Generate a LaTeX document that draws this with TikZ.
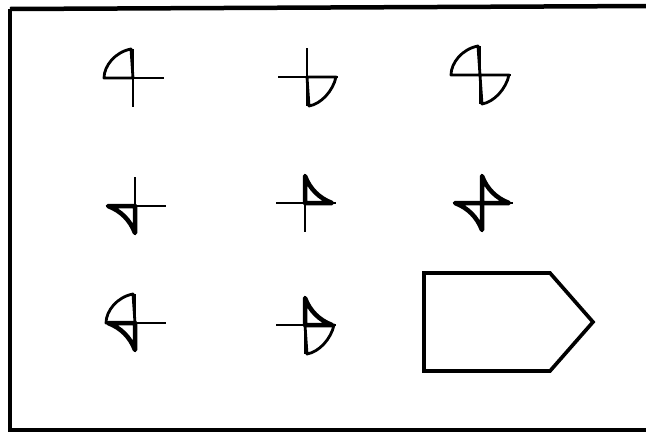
\documentclass[tikz,border=0pt]{standalone}
\usepackage{tikz}
\usetikzlibrary{calc}

\begin{document}
\begin{tikzpicture}[
    x=0.025cm, y=-0.025cm,
    % --- STYLES ---
    frame/.style={draw=black, line width=3.2pt},
    axis/.style={draw=black, line width=1.7pt},
    lobe/.style={draw=black, line width=2pt, line join=round},
    wedge/.style={draw=black, line width=3.2pt, line join=round},
    tag/.style={draw=black, line width=2.6pt, line join=miter}
]

% ===== 1. PAGE & FRAME =====
\useasboundingbox (0,0) rectangle (646,435);
\draw[frame] (10,9) -- (10,430) -- (650,430);
\draw[frame] (10,9) -- (650,6);

% ===== 2. GLYPH CENTRES =====
\coordinate (g1) at (133,78);
\coordinate (g2) at (307,77);
\coordinate (g3) at (480,75);
\coordinate (g4) at (135,206);
\coordinate (g5) at (305,203);
\coordinate (g6) at (482,203);
\coordinate (g7) at (135,323);
\coordinate (g8) at (305,325);

% ===== 3. LOBES (convex) & WEDGES (concave) =====
% upper-left lobes
\foreach \g in {g1,g3,g7}
  \draw[lobe, shift={(\g)}] (-2,-29) .. controls (-18,-26) and (-29,-12) .. (-29,0) -- (0,0) -- cycle;
% lower-right lobes
\foreach \g in {g2,g3,g8}
  \draw[lobe, shift={(\g)}] (29,0) .. controls (26,14) and (14,27) .. (2,29) -- (0,0) -- cycle;
% lower-left wedges
\foreach \g in {g4,g6,g7}
  \draw[wedge, shift={(\g)}] (-27,0) .. controls (-14,5) and (-5,14) .. (0,27) -- (0,0) -- cycle;
% upper-right wedges
\foreach \g in {g5,g6,g8}
  \draw[wedge, shift={(\g)}] (0,-27) .. controls (5,-14) and (14,-5) .. (27,0) -- (0,0) -- cycle;

% ===== 4. CROSSES =====
\foreach \g in {g1,g2,g3,g4,g5,g6,g7,g8} {
  \draw[axis, shift={(\g)}] (-29,0) -- (31,0);
  \draw[axis, shift={(\g)}] (0,-29) -- (0,29);
}

% ===== 5. TAG SHAPE =====
\draw[tag] (424,273) -- (550,273) -- (593,322) -- (550,371) -- (424,371) -- cycle;

\end{tikzpicture}
\end{document}
